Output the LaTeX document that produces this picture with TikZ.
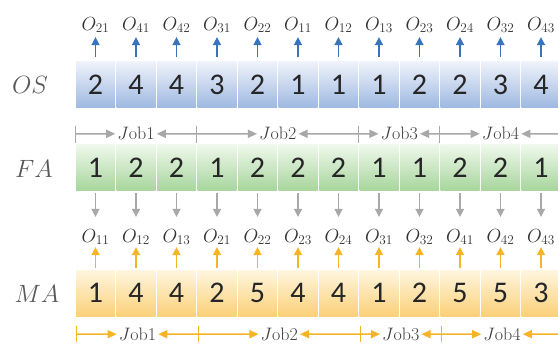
\RequirePackage{fix-cm}
\documentclass[tikz,border=0pt]{standalone}
\usepackage{fontspec}
\newfontfamily\cellfont{Carlito}
\usetikzlibrary{positioning,arrows.meta,calc}

\definecolor{osTop}{HTML}{EEF2FA}
\definecolor{osBot}{HTML}{9DB8E1}
\definecolor{faTop}{HTML}{EEF8EB}
\definecolor{faBot}{HTML}{A6D59B}
\definecolor{maTop}{HTML}{FFF6E0}
\definecolor{maBot}{HTML}{FBD078}
\definecolor{osblue}{HTML}{3A73BD}
\definecolor{fagray}{HTML}{A8A8A8}
\definecolor{maorange}{HTML}{F6B526}

\begin{document}
\begin{tikzpicture}[
    x=1pt, y=-1pt,
    cell/.style={minimum width=39pt, minimum height=46pt, inner sep=0pt,
        font=\cellfont\fontsize{30}{30}\selectfont, text=black!85},
    oscell/.style={cell, top color=osTop, bottom color=osBot},
    facell/.style={cell, top color=faTop, bottom color=faBot},
    macell/.style={cell, top color=maTop, bottom color=maBot},
    oplabel/.style={inner sep=1pt, font=\fontsize{19}{19}\selectfont, text=black!80},
    joblabel/.style={inner sep=2pt, font=\fontsize{18}{18}\selectfont, text=black!75},
    rowname/.style={font=\fontsize{25}{25}\selectfont, text=black!65},
    varrow/.style={-{Triangle[length=8pt,width=8pt]}, line width=1.5pt},
    jobarrow/.style={-{Triangle[length=9pt,width=8pt]}, line width=1.5pt},
    tick/.style={line width=0.9pt}
]
\useasboundingbox (0,0) rectangle (558,345);

% row names
\node[rowname] (osname) at (30,85) {$OS$};
\node[rowname] (faname) at (34,169) {$FA$};
\node[rowname] (maname) at (37,294) {$MA$};

% operation sequence
\foreach \v [count=\i] in {2,4,4,3,2,1,1,1,2,2,3,4}
    \node[oscell] (os\i) at ({95.5+(\i-1)*40.5},85) {\v};
\foreach \s [count=\i] in {21,41,42,31,22,11,12,13,23,24,32,43} {
    \node[oplabel] (ot\i) at ({95.5+(\i-1)*40.5},25) {$O_{\s}$};
    \draw[varrow, osblue, shorten <=5pt, shorten >=3pt] (os\i) -- (ot\i);
}

% factory assignment
\foreach \v [count=\i] in {1,2,2,1,2,2,2,1,1,2,2,1}
    \node[facell] (fa\i) at ({95.5+(\i-1)*40.5},168) {\v};

% machine assignment
\foreach \v [count=\i] in {1,4,4,2,5,4,4,1,2,5,5,3}
    \node[macell] (ma\i) at ({95.5+(\i-1)*40.5},293) {\v};
\foreach \s [count=\i] in {11,12,13,21,22,23,24,31,32,41,42,43} {
    \node[oplabel] (ml\i) at ({95.5+(\i-1)*40.5},237) {$O_{\s}$};
    \draw[varrow, fagray, shorten <=2pt, shorten >=11pt] (fa\i) -- (ml\i);
    \draw[varrow, maorange, shorten <=2pt, shorten >=1pt] (ma\i) -- (ml\i);
}

% job spans above FA and below MA
\foreach \a/\b/\n in {1/3/1,4/7/2,8/9/3,10/12/4} {
    \coordinate (gl\n) at ([xshift=-0.75pt,yshift=11pt]fa\a.north west);
    \coordinate (gr\n) at ([xshift=0.75pt,yshift=11pt]fa\b.north east);
    \node[joblabel] (gj\n) at ($(gl\n)!0.5!(gr\n)$) {$J$ob\n};
    \draw[jobarrow, fagray] (gl\n) -- (gj\n);
    \draw[jobarrow, fagray] (gr\n) -- (gj\n);
    \draw[tick, fagray] ([yshift=8pt]gl\n) -- ([yshift=-9pt]gl\n);

    \coordinate (ol\n) at ([xshift=1pt,yshift=-18pt]ma\a.south west);
    \coordinate (or\n) at ([xshift=2pt,yshift=-18pt]ma\b.south east);
    \node[joblabel] (oj\n) at ($(ol\n)!0.5!(or\n)$) {$J$ob\n};
    \draw[jobarrow, maorange] (ol\n) -- (oj\n);
    \draw[jobarrow, maorange] (or\n) -- (oj\n);
    \draw[tick, maorange] ([yshift=8pt]ol\n) -- ([yshift=-8pt]ol\n);
}
\end{tikzpicture}
\end{document}
